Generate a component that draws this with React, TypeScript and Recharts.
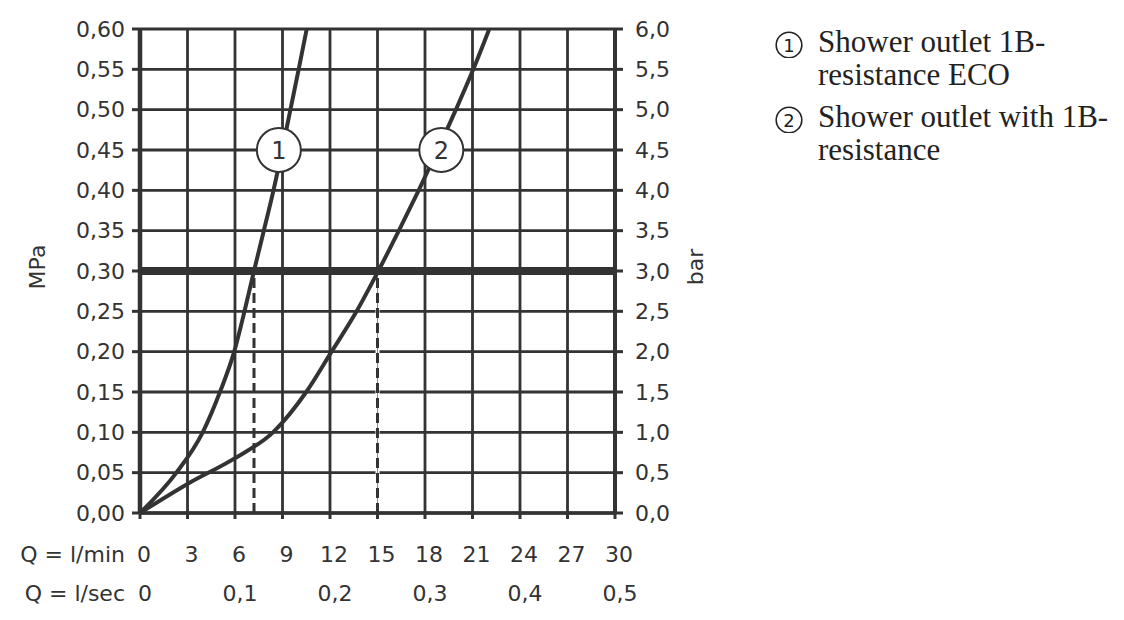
import React from 'react';
import {
  LineChart,
  Line,
  XAxis,
  YAxis,
  CartesianGrid,
  ReferenceLine,
  ReferenceDot,
} from 'recharts';

// l/min ticks and labels
const flowTicks = [0, 3, 6, 9, 12, 15, 18, 21, 24, 27, 30];
const flowMinLabels = ['0', '3', '6', '9', '12', '15', '18', '21', '24', '27', '30'];
// l/sec row (at every 6 l/min)
const flowSecTicks = [0, 6, 12, 18, 24, 30];
const flowSecLabels = ['0', '0,1', '0,2', '0,3', '0,4', '0,5'];

// MPa axis
const mpaTicks = [0, 0.05, 0.1, 0.15, 0.2, 0.25, 0.3, 0.35, 0.4, 0.45, 0.5, 0.55, 0.6];
const mpaLabels = ['0,00', '0,05', '0,10', '0,15', '0,20', '0,25', '0,30', '0,35', '0,40', '0,45', '0,50', '0,55', '0,60'];
// bar axis
const barTicks = [0, 0.5, 1, 1.5, 2, 2.5, 3, 3.5, 4, 4.5, 5, 5.5, 6];
const barLabels = ['0,0', '0,5', '1,0', '1,5', '2,0', '2,5', '3,0', '3,5', '4,0', '4,5', '5,0', '5,5', '6,0'];

// Curve 1: Shower outlet 1B-resistance ECO
const ecoFlow = [0, 2.3, 3.96, 5.05, 5.95, 6.6, 7.2, 7.82, 8.43, 8.98, 9.5, 10.02, 10.53];
const ecoPressure = [0, 0.05, 0.1, 0.15, 0.2, 0.25, 0.3, 0.35, 0.4, 0.45, 0.5, 0.55, 0.6];
// Curve 2: Shower outlet with 1B-resistance
const stdFlow = [0, 3, 6, 8.4, 10.5, 12.1, 13.68, 15.05, 16.35, 17.6, 18.8, 19.95, 21.05, 22.06];
const stdPressure = [0, 0.036, 0.068, 0.1, 0.15, 0.2, 0.25, 0.3, 0.35, 0.4, 0.45, 0.5, 0.55, 0.6];

// rated operating pressure and resulting flows
const ratedPressure = 0.3;
const ratedFlows = [7.2, 15];

// curve marker positions
const markerLabels = ['1', '2'];
const markerFlow = [8.77, 19.03];
const markerPressure = [0.45, 0.45];

const legendItems = [
  ['Shower outlet 1B-', 'resistance ECO'],
  ['Shower outlet with 1B-', 'resistance'],
];
const legendMarks = ['1', '2'];

const ecoData = ecoFlow.map((q, i) => ({ q, p: ecoPressure[i] }));
const stdData = stdFlow.map((q, i) => ({ q, p: stdPressure[i] }));

const INK = '#333333';
const FONT = '"DejaVu Sans", sans-serif';
const FS = 22;

const XTick = (props: any) => {
  const { x, y, payload, index } = props;
  const v = payload.value;
  const i = flowTicks.indexOf(v);
  const j = flowSecTicks.indexOf(v);
  return (
    <g>
      {index === 0 && (
        <>
          <text x={x - 15} y={y + 33} textAnchor="end" dominantBaseline="central" fill={INK} fontSize={FS} fontFamily={FONT}>
            Q = l/min
          </text>
          <text x={x - 15} y={y + 72} textAnchor="end" dominantBaseline="central" fill={INK} fontSize={FS} fontFamily={FONT}>
            Q = l/sec
          </text>
        </>
      )}
      <text x={x + 4} y={y + 33} textAnchor="middle" dominantBaseline="central" fill={INK} fontSize={FS} fontFamily={FONT}>
        {i >= 0 ? flowMinLabels[i] : ''}
      </text>
      {j >= 0 && (
        <text x={x + 5} y={y + 72} textAnchor="middle" dominantBaseline="central" fill={INK} fontSize={FS} fontFamily={FONT}>
          {flowSecLabels[j]}
        </text>
      )}
    </g>
  );
};

const RotLabel = (text: string, cx: number) => (props: any) => {
  const vb = props.viewBox || {};
  const x = cx;
  const y = (vb.y || 0) + (vb.height || 0) / 2 - 4;
  return (
    <text
      x={x}
      y={y}
      transform={`rotate(-90 ${x} ${y})`}
      textAnchor="middle"
      dominantBaseline="central"
      fill={INK}
      fontSize={FS}
      fontFamily={FONT}
    >
      {text}
    </text>
  );
};

export default function App() {
  return (
    <div style={{ position: 'absolute', left: 0, top: 0, width: 1124, height: 620, background: '#fff' }}>
      <LineChart
        width={1124}
        height={620}
        margin={{ top: 29, right: 409, left: 0, bottom: 17 }}
      >
        <CartesianGrid yAxisId="mpa" stroke={INK} strokeWidth={2.8} fill="#fff" />
        <XAxis
          type="number"
          dataKey="q"
          domain={[0, 30]}
          ticks={flowTicks}
          interval={0}
          height={90}
          allowDataOverflow
          axisLine={{ stroke: INK, strokeWidth: 3.5 }}
          tickLine={{ stroke: INK, strokeWidth: 3 }}
          tickSize={6}
          tick={<XTick />}
        />
        <YAxis
          yAxisId="mpa"
          type="number"
          domain={[0, 0.6]}
          ticks={mpaTicks}
          interval={0}
          width={140}
          allowDataOverflow
          axisLine={{ stroke: INK, strokeWidth: 4.5 }}
          tickLine={{ stroke: INK, strokeWidth: 3 }}
          tickSize={8}
          tickMargin={7}
          tick={{ fill: INK, fontSize: FS, fontFamily: FONT }}
          tickFormatter={(v: number, i: number) => mpaLabels[i]}
          label={{ content: RotLabel('MPa', 37) }}
        />
        <YAxis
          yAxisId="bar"
          orientation="right"
          type="number"
          domain={[0, 6]}
          ticks={barTicks}
          interval={0}
          width={100}
          allowDataOverflow
          axisLine={{ stroke: INK, strokeWidth: 4 }}
          tickLine={{ stroke: INK, strokeWidth: 3 }}
          tickSize={8}
          tickMargin={12}
          tick={{ fill: INK, fontSize: FS, fontFamily: FONT, textAnchor: 'start' }}
          tickFormatter={(v: number, i: number) => barLabels[i]}
          label={{ content: RotLabel('bar', 695) }}
        />
        <ReferenceLine
          yAxisId="mpa"
          segment={[{ x: ratedFlows[1], y: 0 }, { x: ratedFlows[1], y: ratedPressure }]}
          stroke="#fff"
          strokeWidth={4}
        />
        <ReferenceLine
          yAxisId="mpa"
          segment={[{ x: ratedFlows[1], y: 0 }, { x: ratedFlows[1], y: ratedPressure }]}
          stroke="#888"
          strokeWidth={1}
        />
        {ratedFlows.map((f) => (
          <ReferenceLine
            key={f}
            yAxisId="mpa"
            segment={[{ x: f, y: 0 }, { x: f, y: ratedPressure }]}
            stroke={INK}
            strokeWidth={3}
            strokeDasharray="10 5"
          />
        ))}
        <ReferenceLine yAxisId="mpa" y={ratedPressure} stroke={INK} strokeWidth={8} />
        <Line
          yAxisId="mpa"
          data={ecoData}
          dataKey="p"
          type="monotone"
          stroke={INK}
          strokeWidth={4}
          dot={false}
          isAnimationActive={false}
        />
        <Line
          yAxisId="mpa"
          data={stdData}
          dataKey="p"
          type="monotone"
          stroke={INK}
          strokeWidth={4}
          dot={false}
          isAnimationActive={false}
        />
        {markerLabels.map((m, i) => (
          <ReferenceDot
            key={m}
            yAxisId="mpa"
            x={markerFlow[i]}
            y={markerPressure[i]}
            r={22}
            fill="#fff"
            stroke={INK}
            strokeWidth={2}
            label={{ value: m, position: 'center', fill: INK, fontSize: 24, fontFamily: FONT }}
          />
        ))}
      </LineChart>
      <div
        style={{
          position: 'absolute',
          left: 774,
          top: 25,
          fontFamily: '"Liberation Serif", "Times New Roman", serif',
          fontSize: 31,
          lineHeight: '33px',
          color: '#222',
        }}
      >
        {legendItems.map((lines, i) => (
          <div key={i} style={{ display: 'flex', marginBottom: 9 }}>
            <svg width={44} height={33} style={{ flex: 'none' }}>
              <circle cx={15} cy={20} r={12.8} fill="none" stroke="#222" strokeWidth={1.6} />
              <text x={15} y={20} textAnchor="middle" dominantBaseline="central" fontFamily={FONT} fontSize={18} fill="#222">
                {legendMarks[i]}
              </text>
            </svg>
            <div>
              {lines.map((l, k) => (
                <div key={k} style={{ whiteSpace: 'nowrap' }}>{l}</div>
              ))}
            </div>
          </div>
        ))}
      </div>
    </div>
  );
}
